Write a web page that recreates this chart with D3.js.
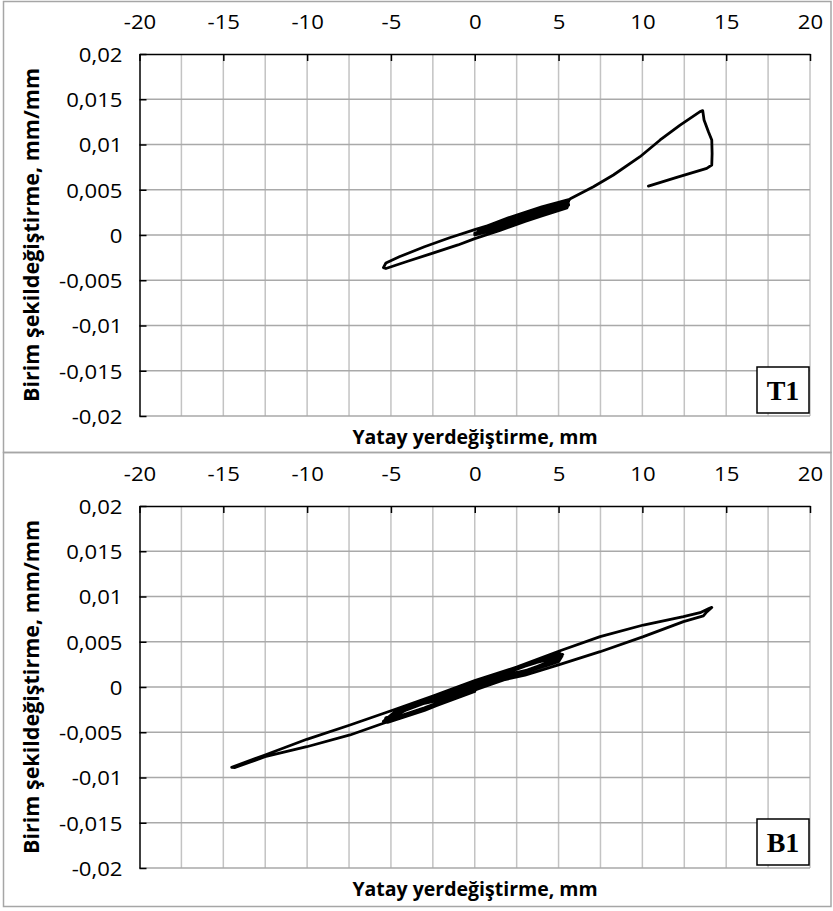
<!DOCTYPE html>
<html>
<head>
<meta charset="utf-8">
<script src="https://cdn.jsdelivr.net/npm/d3@7"></script>
<style>
  html, body { margin: 0; padding: 0; background: #fff; }
  svg { display: block; }
</style>
</head>
<body>
<svg id="chart" width="833" height="911"></svg>
<script>
// Displacement (mm) axis and strain (mm/mm) axis
const xTicks = [-20, -15, -10, -5, 0, 5, 10, 15, 20];
const xTickLabels = ["-20", "-15", "-10", "-5", "0", "5", "10", "15", "20"];
const yTicks = [0.02, 0.015, 0.01, 0.005, 0, -0.005, -0.01, -0.015, -0.02];
const yTickLabels = ["0,02", "0,015", "0,01", "0,005", "0", "-0,005", "-0,01", "-0,015", "-0,02"];

const xTitle = "Yatay yerdeğiştirme, mm";
const yTitle = "Birim şekildeğiştirme, mm/mm";
const panelNames = ["T1", "B1"];

// T1 gauge: [displacement, strain]
const t1Path = [
  [0, 0], [0.6, 0.0003], [1.2, 0.0007], [0.6, 0.0005], [0, 0.0002],
  [0.9, 0.0005], [1.8, 0.001], [2.4, 0.0014], [1.5, 0.0011], [0.5, 0.0005], [0, 0.0001],
  [1.2, 0.0006], [2.5, 0.0014], [3.5, 0.0021], [2.5, 0.0017], [1.2, 0.001], [0.2, 0.0004],
  [1.5, 0.0008], [3.0, 0.0017], [4.5, 0.0027], [3.2, 0.0022], [1.6, 0.0012], [0.3, 0.0005], [0.1, 0.0001],
  [2.0, 0.001], [4.0, 0.0022], [5.5, 0.0033], [5.6, 0.0037], [4.0, 0.0029], [2.0, 0.0017], [0, 0.0006],
  [-1.5, -0.0003], [-3, -0.0013], [-4.5, -0.0024], [-5.3, -0.0031], [-5.45, -0.0036], [-5.3, -0.0037],
  [-4, -0.0029], [-2.5, -0.002], [-1, -0.0011], [0, -0.0004], [1.5, 0.0005], [3, 0.0015], [4.5, 0.0025],
  [5.5, 0.0032], [5.6, 0.0038],
  [4, 0.003], [2, 0.0018], [0.5, 0.0008], [0.3, 0.0003], [2, 0.0012], [4, 0.0024], [5.5, 0.0034], [5.6, 0.0039],
  [4, 0.0031], [2, 0.0019], [0.6, 0.0009], [0.4, 0.0002], [2, 0.0009], [4, 0.0021], [5.5, 0.003],
  [5.6, 0.0034], [4, 0.0027], [2, 0.0015], [0.4, 0.0006], [0.6, 0.0004], [2.5, 0.0013], [4.5, 0.0025],
  [5.6, 0.0033], [5.5, 0.0038], [3.5, 0.0027], [1.5, 0.0014], [0.2, 0.0007],
  [1.5, 0.001], [3.5, 0.0023], [5.5, 0.0036], [5.7, 0.004],
  [7.08, 0.00534], [8.27, 0.00663], [9.86, 0.00865], [11.06, 0.0105], [12.25, 0.01215],
  [13.44, 0.01363], [13.6, 0.01374], [13.68, 0.0127], [13.94, 0.0114], [14.14, 0.0105],
  [14.16, 0.009], [14.14, 0.00773], [13.84, 0.00737], [12.05, 0.00637], [10.36, 0.00541]
];

// B1 gauge: [displacement, strain]
const b1Path = [
  [0, 0], [1.2, 0.0007], [2.5, 0.0016], [1.2, 0.0009], [0, 0.0002], [-1.2, -0.0006], [-2.5, -0.0015],
  [-1.2, -0.0009], [0, -0.0002],
  [1.5, 0.0008], [3, 0.0018], [2, 0.0014], [0.5, 0.0004], [-1.5, -0.0008], [-3, -0.0018], [-2, -0.0014],
  [-0.5, -0.0004],
  [1.5, 0.0007], [3.5, 0.0021], [5.2, 0.0034], [5.1, 0.0037], [3, 0.0025], [1, 0.0011], [-1, -0.0003],
  [-3, -0.0016], [-4.8, -0.0028], [-5.45, -0.0038], [-5.2, -0.0039], [-3, -0.0026], [-1, -0.0011],
  [1, 0.0004], [3, 0.0018], [5, 0.0031], [5.25, 0.0036],
  [3, 0.0023], [1, 0.0009], [-1, -0.0005], [-3, -0.0018], [-5.3, -0.0034], [-5.4, -0.0039],
  [-3, -0.0024], [-1, -0.001], [1, 0.0003], [3, 0.0016], [5, 0.0028], [5.2, 0.0034],
  [3, 0.0024], [1, 0.0011], [-1, -0.0002], [-3, -0.0015], [-5.3, -0.0037],
  [-3, -0.0023], [-1, -0.0009], [1, 0.0005], [3, 0.0013], [5.09, 0.0025], [7.48, 0.0039],
  [10.06, 0.00556], [12.45, 0.00722], [13.64, 0.00785], [13.84, 0.0083], [14.14, 0.0088], [14.0, 0.0087],
  [13.44, 0.00821], [12.45, 0.00777], [10.06, 0.00685], [7.48, 0.00556], [5.09, 0.004], [2.5, 0.0022],
  [0, 0.0007], [-2.5, -0.001], [-4.86, -0.00254], [-7.44, -0.0042], [-10.02, -0.00578],
  [-12.51, -0.00751], [-14.5, -0.00887], [-14.3, -0.0089],
  [-12.51, -0.0077], [-10.02, -0.0066], [-7.44, -0.0053], [-5.45, -0.004], [-2.5, -0.0022], [0, -0.0005]
];

const panelData = [t1Path, b1Path];

const svg = d3.select("#chart");
const tickFont = "'Open Sans', 'DejaVu Sans', sans-serif";
const tickStretch = 1.08;

// outer frames
const frames = [[3.5, 1.5, 827.5, 451], [3.5, 452.5, 827.5, 454]];
svg.selectAll("rect.frame").data(frames).join("rect")
  .attr("class", "frame")
  .attr("x", d => d[0]).attr("y", d => d[1])
  .attr("width", d => d[2]).attr("height", d => d[3])
  .attr("fill", "none").attr("stroke", "#a6a6a6").attr("stroke-width", 1.5);

panelNames.forEach((name, i) => {
  const g = svg.append("g").attr("transform", `translate(0,${i * 452})`);
  const x = d3.scaleLinear().domain([-20, 20]).range([139.5, 810]);
  const y = d3.scaleLinear().domain([-0.02, 0.02]).range([416, 54]);

  // vertical grid every 2.5 mm
  const xGrid = d3.range(-17.5, 20.01, 2.5);
  g.append("g").selectAll("line").data(xGrid).join("line")
    .attr("x1", d => x(d)).attr("x2", d => x(d))
    .attr("y1", y(0.02)).attr("y2", y(-0.02))
    .attr("stroke", "#c3c3c3").attr("stroke-width", 1.5);

  // horizontal grid at each strain tick
  g.append("g").selectAll("line").data(yTicks.filter(v => v !== 0.02)).join("line")
    .attr("x1", x(-20)).attr("x2", x(20))
    .attr("y1", d => y(d)).attr("y2", d => y(d))
    .attr("stroke", "#a9a9a9").attr("stroke-width", 1.5);

  // top axis with inward ticks
  const xAxis = d3.axisTop(x).tickValues(xTicks)
    .tickFormat((d, k) => xTickLabels[k])
    .tickSizeInner(-7).tickSizeOuter(0).tickPadding(25);
  const gx = g.append("g").attr("transform", `translate(0,${y(0.02)})`).call(xAxis);
  gx.select(".domain").attr("stroke", "#000").attr("stroke-width", 1.5);
  gx.selectAll(".tick line").attr("stroke", "#000").attr("stroke-width", 1.5);
  gx.selectAll(".tick text")
    .attr("fill", "#000").attr("font-family", tickFont).attr("font-size", 20.5)
    .attr("transform", function () { return `translate(0,${d3.select(this).attr("y")}) scale(${tickStretch},1)`; })
    .attr("y", 0);

  // left axis with inward ticks
  const yAxis = d3.axisLeft(y).tickValues(yTicks)
    .tickFormat((d, k) => yTickLabels[k])
    .tickSizeInner(-7).tickSizeOuter(0).tickPadding(17);
  const gy = g.append("g").attr("transform", `translate(${x(-20)},0)`).call(yAxis);
  gy.select(".domain").attr("stroke", "#000").attr("stroke-width", 1.5);
  gy.selectAll(".tick line").attr("stroke", "#000").attr("stroke-width", 1.5);
  gy.selectAll(".tick text")
    .attr("fill", "#000").attr("font-family", tickFont).attr("font-size", 20.5)
    .attr("dy", "0.36em")
    .attr("transform", `translate(-17,0) scale(${tickStretch},1)`)
    .attr("x", 0);

  // measured curve
  const line = d3.line().x(d => x(d[0])).y(d => y(d[1]));
  g.append("path").datum(panelData[i])
    .attr("d", line)
    .attr("fill", "none").attr("stroke", "#000")
    .attr("stroke-width", 2.8).attr("stroke-linejoin", "round").attr("stroke-linecap", "round");

  // axis titles
  g.append("text")
    .attr("x", 475).attr("y", 444)
    .attr("text-anchor", "middle")
    .attr("font-family", tickFont).attr("font-weight", "bold").attr("font-size", 19.5)
    .text(xTitle);
  g.append("text")
    .attr("transform", `translate(39,235) rotate(-90)`)
    .attr("text-anchor", "middle")
    .attr("font-family", tickFont).attr("font-weight", "bold").attr("font-size", 21.5)
    .text(yTitle);

  // gauge label box
  g.append("rect")
    .attr("x", 757).attr("y", y(-0.02) - 49).attr("width", 52).attr("height", 46)
    .attr("fill", "#fff").attr("stroke", "#000").attr("stroke-width", 1.5);
  g.append("text")
    .attr("x", 783).attr("y", y(-0.02) - 16)
    .attr("text-anchor", "middle")
    .attr("font-family", "'Liberation Serif', 'Times New Roman', serif")
    .attr("font-weight", "bold").attr("font-size", 28)
    .text(name);
});
</script>
</body>
</html>
